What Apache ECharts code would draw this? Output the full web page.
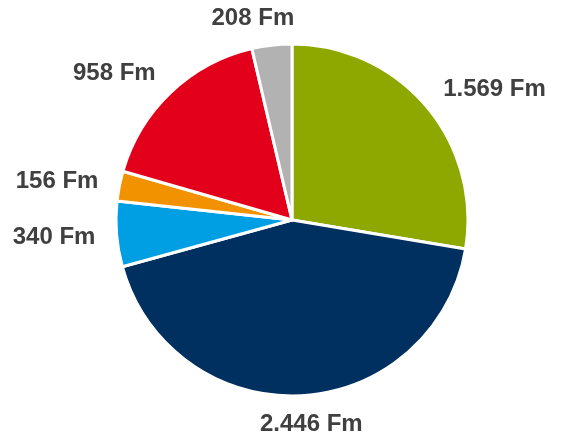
<!DOCTYPE html>
<html>
<head>
<meta charset="utf-8">
<style>html,body{margin:0;padding:0;background:#fff;}#chart{width:580px;height:436px;}</style>
<script src="https://cdn.jsdelivr.net/npm/echarts@6/dist/echarts.min.js"></script>
</head>
<body>
<div id="chart"></div>
<script>
const values = [1569, 2446, 340, 156, 958, 208];
const labels = ['1.569 Fm', '2.446 Fm', '340 Fm', '156 Fm', '958 Fm', '208 Fm'];
const colors = ['#8fa800', '#00305f', '#009fe3', '#f39200', '#e2001a', '#b2b2b2'];

const CX = 292, CY = 220, R = 176, GAP = 20;
const total = values.reduce((a, b) => a + b, 0);

const chart = echarts.init(document.getElementById('chart'));
chart.setOption({
  animation: false,
  series: [{
    type: 'pie',
    center: [CX, CY],
    radius: [0, R],
    startAngle: 90,
    clockwise: true,
    itemStyle: { borderColor: '#ffffff', borderWidth: 3 },
    label: {
      show: true,
      position: 'inside',
      overflow: 'none',
      formatter: p => labels[p.dataIndex],
      color: '#404040',
      fontFamily: 'Liberation Sans, Arial, sans-serif',
      fontWeight: 'bold',
      fontSize: 24
    },
    labelLine: { show: false },
    labelLayout: function (params) {
      const i = params.dataIndex;
      let before = 0;
      for (let k = 0; k < i; k++) before += values[k];
      const mid = (before + values[i] / 2) / total * Math.PI * 2;
      const dx = Math.sin(mid), dy = -Math.cos(mid);
      const px = CX + dx * (R + GAP), py = CY + dy * (R + GAP);
      const w = params.labelRect.width;
      const fx = Math.max(-1.03, Math.min(1.03, dx * 3.5));
      return { x: px + fx * w / 2, y: py + dy * 8 + 1, align: 'center', verticalAlign: 'middle' };
    },
    data: values.map((v, i) => ({ value: v, name: labels[i], itemStyle: { color: colors[i] } }))
  }]
});
</script>
</body>
</html>
